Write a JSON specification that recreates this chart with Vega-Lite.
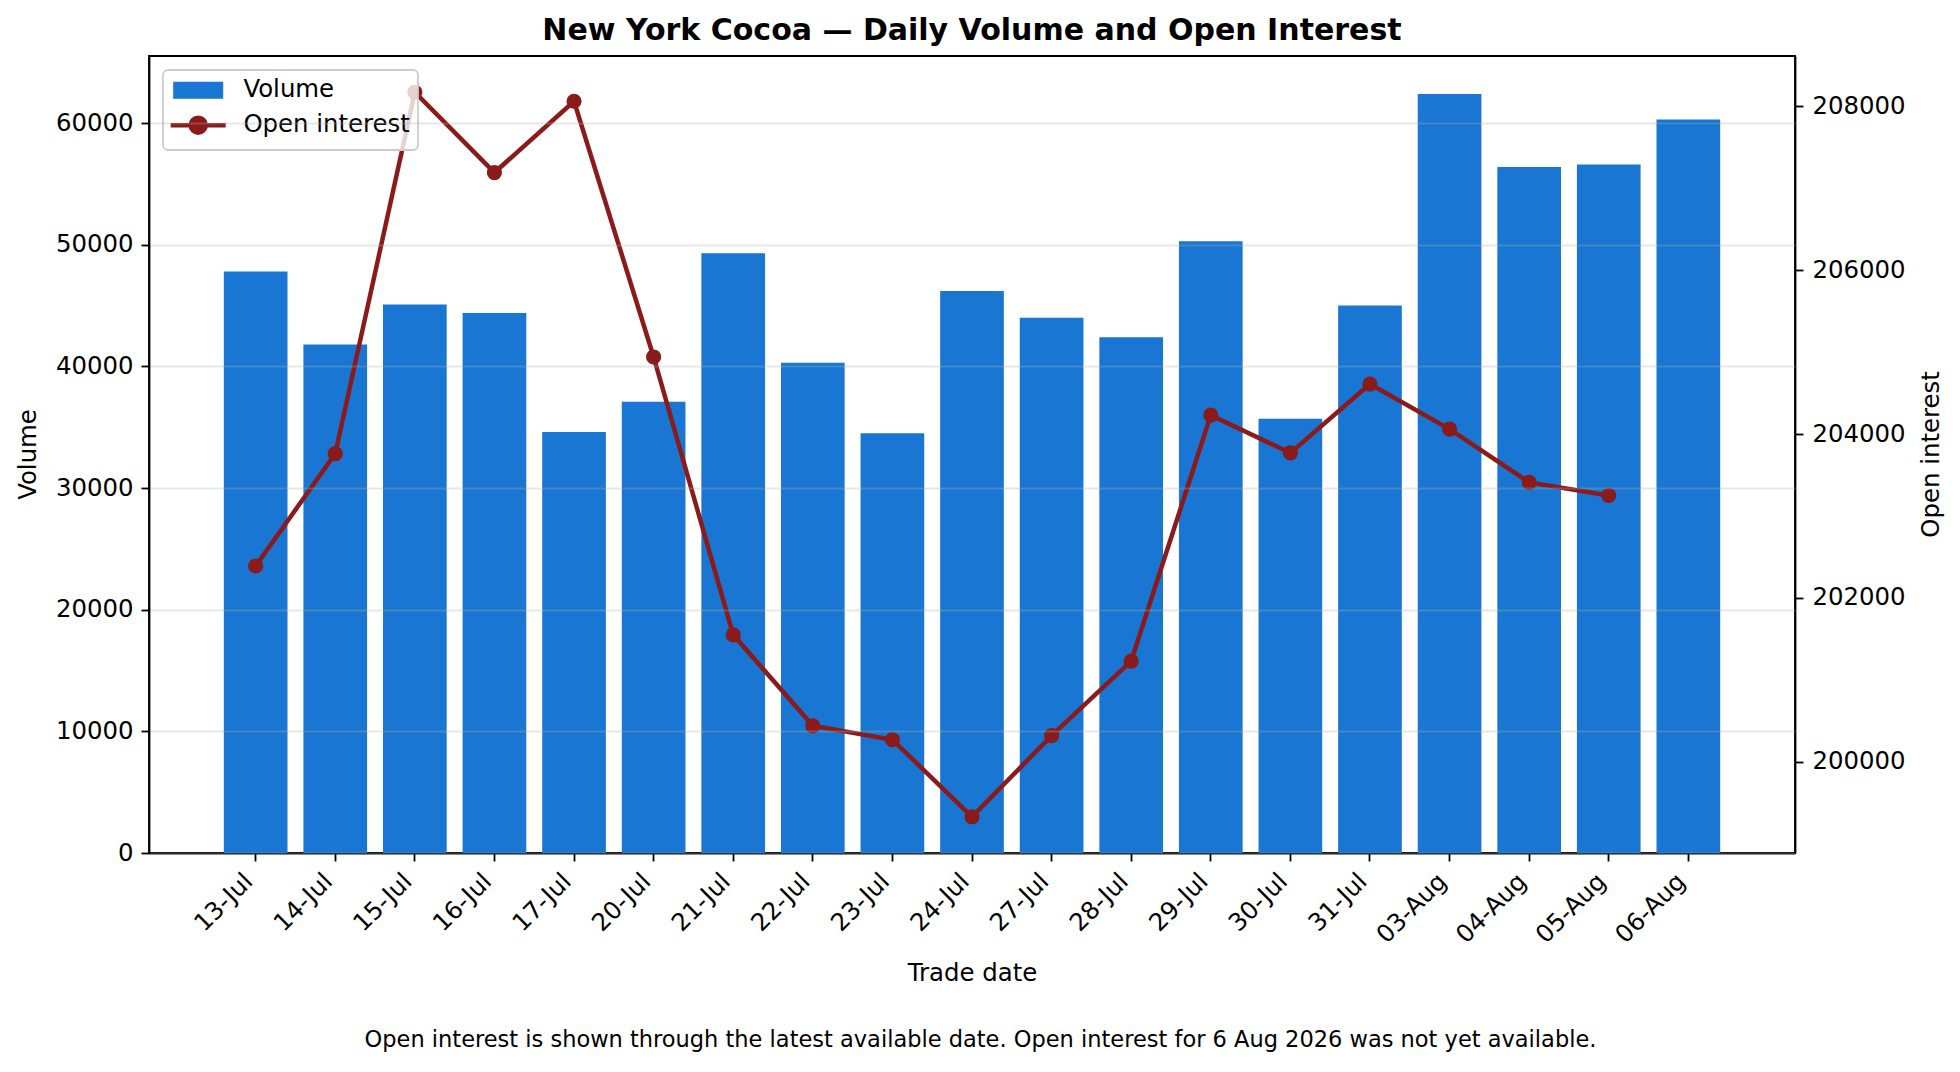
{
  "$schema": "https://vega.github.io/schema/vega-lite/v6.json",
  "width": 1646,
  "height": 797,
  "autosize": {"type": "none"},
  "padding": {"left": 149, "top": 56, "right": 165, "bottom": 219},
  "background": "white",
  "title": {
    "text": "New York Cocoa — Daily Volume and Open Interest",
    "font": "DejaVu Sans",
    "fontSize": 30,
    "fontWeight": "bold",
    "color": "black",
    "anchor": "middle",
    "baseline": "alphabetic",
    "offset": -14
  },
  "config": {
    "font": "DejaVu Sans",
    "view": {"stroke": "black", "strokeWidth": 1.8},
    "axis": {
      "labelFont": "DejaVu Sans",
      "labelFontSize": 24.4,
      "labelColor": "black",
      "titleFont": "DejaVu Sans",
      "titleFontSize": 24.4,
      "titleFontWeight": "normal",
      "titleColor": "black",
      "domainColor": "black",
      "domainWidth": 1.8,
      "tickColor": "black",
      "tickWidth": 1.8,
      "tickSize": 8,
      "labelPadding": 8
    }
  },
  "data": {
    "values": [
      {"date": "13-Jul", "volume": 47800, "oi": 202390},
      {"date": "14-Jul", "volume": 41800, "oi": 203760},
      {"date": "15-Jul", "volume": 45100, "oi": 208170},
      {"date": "16-Jul", "volume": 44400, "oi": 207190},
      {"date": "17-Jul", "volume": 34600, "oi": 208060},
      {"date": "20-Jul", "volume": 37100, "oi": 204940},
      {"date": "21-Jul", "volume": 49300, "oi": 201550},
      {"date": "22-Jul", "volume": 40300, "oi": 200440},
      {"date": "23-Jul", "volume": 34500, "oi": 200270},
      {"date": "24-Jul", "volume": 46200, "oi": 199330},
      {"date": "27-Jul", "volume": 44000, "oi": 200320},
      {"date": "28-Jul", "volume": 42400, "oi": 201230},
      {"date": "29-Jul", "volume": 50300, "oi": 204230},
      {"date": "30-Jul", "volume": 35700, "oi": 203770},
      {"date": "31-Jul", "volume": 45000, "oi": 204610},
      {"date": "03-Aug", "volume": 62400, "oi": 204060},
      {"date": "04-Aug", "volume": 56400, "oi": 203410},
      {"date": "05-Aug", "volume": 56600, "oi": 203250},
      {"date": "06-Aug", "volume": 60300, "oi": null}
    ]
  },
  "layer": [
    {
      "mark": {"type": "bar"},
      "encoding": {
        "x": {
          "field": "date",
          "type": "ordinal",
          "sort": null,
          "scale": {"paddingInner": 0.2, "paddingOuter": 0.94},
          "axis": {
            "orient": "bottom",
            "title": "Trade date",
            "labelAngle": -45,
            "labelAlign": "right",
            "labelBaseline": "top",
            "labelOffset": -15,
            "titleX": 823,
            "titleY": 127,
            "titleAlign": "center",
            "titleBaseline": "alphabetic"
          }
        },
        "y": {
          "field": "volume",
          "type": "quantitative",
          "scale": {"domain": [0, 65520], "nice": false},
          "axis": {
            "title": "Volume",
            "values": [0, 10000, 20000, 30000, 40000, 50000, 60000],
            "format": "d",
            "grid": true,
            "gridColor": "#b0b0b0",
            "gridOpacity": 0.3,
            "gridWidth": 1.8,
            "zindex": 1,
            "titleX": -121,
            "titleY": 398,
            "titleAngle": 270,
            "titleAlign": "center",
            "titleBaseline": "middle"
          }
        },
        "color": {
          "datum": "Volume",
          "scale": {"domain": ["Volume", "Open interest"], "range": ["#1976d2", "#8b1a1a"]},
          "legend": {
            "orient": "top-left",
            "offset": 14,
            "title": null,
            "padding": 8,
            "rowPadding": 6,
            "symbolOffset": 15,
            "labelOffset": 33,
            "labelLimit": 500,
            "labelFont": "DejaVu Sans",
            "labelFontSize": 24.4,
            "labelColor": "black",
            "strokeColor": "#cccccc",
            "fillColor": "rgba(255,255,255,0.8)",
            "cornerRadius": 5,
            "encode": {
              "legend": {"update": {"strokeWidth": {"value": 1.8}}},
              "symbols": {
                "update": {
                  "shape": {"signal": "datum.value === 'Volume' ? 'M-2.5,-0.85H2.5V0.85H-2.5Z' : 'M-2.75,0H2.75M-0.75,0A0.75,0.75,0,1,1,0.75,0A0.75,0.75,0,1,1,-0.75,0Z'"},
                  "fill": {"signal": "datum.value === 'Volume' ? '#1976d2' : '#8b1a1a'"},
                  "stroke": {"signal": "datum.value === 'Volume' ? '#1976d2' : '#8b1a1a'"},
                  "strokeWidth": {"signal": "datum.value === 'Volume' ? 0 : 4.5"},
                  "size": {"value": 400},
                  "opacity": {"value": 1}
                }
              }
            }
          }
        }
      }
    },
    {
      "transform": [{"filter": "datum.oi != null"}],
      "encoding": {
        "x": {
          "field": "date",
          "type": "ordinal",
          "sort": null,
          "axis": {
            "orient": "bottom",
            "title": "Open interest is shown through the latest available date. Open interest for 6 Aug 2026 was not yet available.",
            "labels": false,
            "ticks": false,
            "domain": false,
            "grid": false,
            "titleFontSize": 22.5,
            "titleX": 831,
            "titleY": 193,
            "titleAlign": "center",
            "titleBaseline": "alphabetic"
          }
        },
        "y": {
          "field": "oi",
          "type": "quantitative",
          "scale": {"domain": [198888, 208612], "nice": false, "zero": false},
          "axis": {
            "orient": "right",
            "title": "Open interest",
            "values": [200000, 202000, 204000, 206000, 208000],
            "format": "d",
            "grid": false,
            "labelPadding": 9,
            "titleX": 136,
            "titleY": 398,
            "titleAngle": 270,
            "titleAlign": "center",
            "titleBaseline": "middle"
          }
        }
      },
      "layer": [
        {
          "mark": {"type": "line", "strokeWidth": 4.5},
          "encoding": {"color": {"datum": "Open interest"}}
        },
        {
          "mark": {"type": "point", "filled": true, "size": 230, "opacity": 1, "color": "#8b1a1a"}
        }
      ]
    }
  ],
  "resolve": {"scale": {"y": "independent"}, "axis": {"x": "independent"}}
}
